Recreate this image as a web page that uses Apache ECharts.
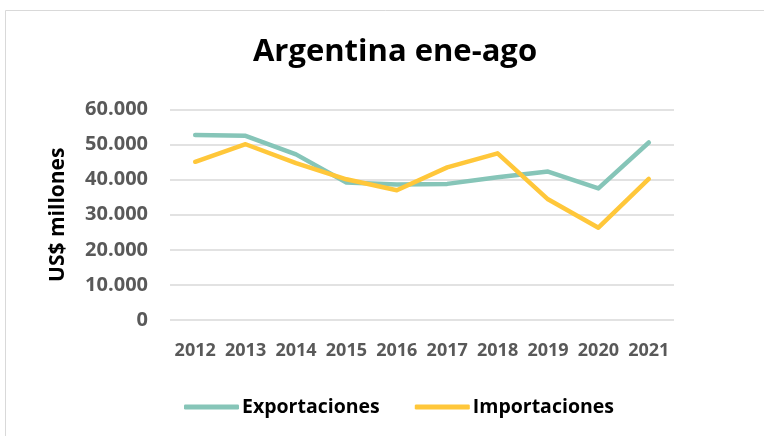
<!DOCTYPE html>
<html>
<head>
<meta charset="utf-8">
<script src="https://cdn.jsdelivr.net/npm/echarts@6/dist/echarts.min.js"></script>
<style>
  html, body { margin: 0; padding: 0; background: #fff; }
  #chart { width: 764px; height: 436px; }
</style>
</head>
<body>
<div id="chart"></div>
<script>
// datos (US$ millones)
var years = ['2012', '2013', '2014', '2015', '2016', '2017', '2018', '2019', '2020', '2021'];
var exportaciones = [52700, 52500, 47200, 39200, 38600, 38800, 40700, 42300, 37500, 50600];
var importaciones = [45100, 50100, 44700, 40100, 37000, 43500, 47500, 34400, 26300, 40200];

var chart = echarts.init(document.getElementById('chart'));
var font = '"Open Sans", Lato, sans-serif';

var option = {
  animation: false,
  backgroundColor: '#fff',
  title: {
    text: 'Argentina ene-ago',
    left: 390,
    top: 32,
    textAlign: 'center',
    textStyle: { fontFamily: font, fontSize: 31, fontWeight: 'bold', color: '#000' }
  },
  // borde del area del grafico
  graphic: [{
    type: 'rect',
    shape: { x: 5.5, y: 10.5, width: 800, height: 500 },
    style: { fill: 'none', stroke: '#d9d9d9', lineWidth: 1 },
    silent: true
  }],
  legend: {
    data: ['Exportaciones', 'Importaciones'],
    left: 179,
    top: 392,
    itemWidth: 55,
    itemHeight: 5,
    itemGap: 35,
    icon: 'roundRect',
    textStyle: { fontFamily: font, fontSize: 19.5, fontWeight: 'bold', color: '#000', padding: [0, 0, 0, -2] }
  },
  grid: { left: 170, right: 90, top: 109.5, bottom: 116 },
  xAxis: {
    type: 'category',
    data: years,
    boundaryGap: true,
    axisLine: { show: false },
    axisTick: { show: false },
    axisLabel: { interval: 0, fontFamily: font, fontSize: 18, fontWeight: 'bold', color: '#595959', margin: 22 }
  },
  yAxis: {
    type: 'value',
    min: 0,
    max: 60000,
    interval: 10000,
    name: 'US$ millones',
    nameLocation: 'middle',
    nameGap: 101,
    nameTextStyle: { fontFamily: font, fontSize: 21, fontWeight: 'bold', color: '#000' },
    axisLabel: {
      fontFamily: font, fontSize: 20, fontWeight: 'bold', color: '#595959', margin: 22,
      formatter: function (v) { return v === 0 ? '0' : (v / 1000) + '.000'; }
    },
    splitLine: { lineStyle: { color: '#d9d9d9', width: 1.5 } }
  },
  series: [
    {
      name: 'Exportaciones',
      type: 'line',
      data: exportaciones,
      symbol: 'none',
      color: '#86c5b8',
      lineStyle: { width: 4.5, cap: 'round', join: 'round' }
    },
    {
      name: 'Importaciones',
      type: 'line',
      data: importaciones,
      symbol: 'none',
      color: '#ffc73a',
      lineStyle: { width: 4.5, cap: 'round', join: 'round' }
    }
  ]
};
chart.setOption(option);
</script>
</body>
</html>
